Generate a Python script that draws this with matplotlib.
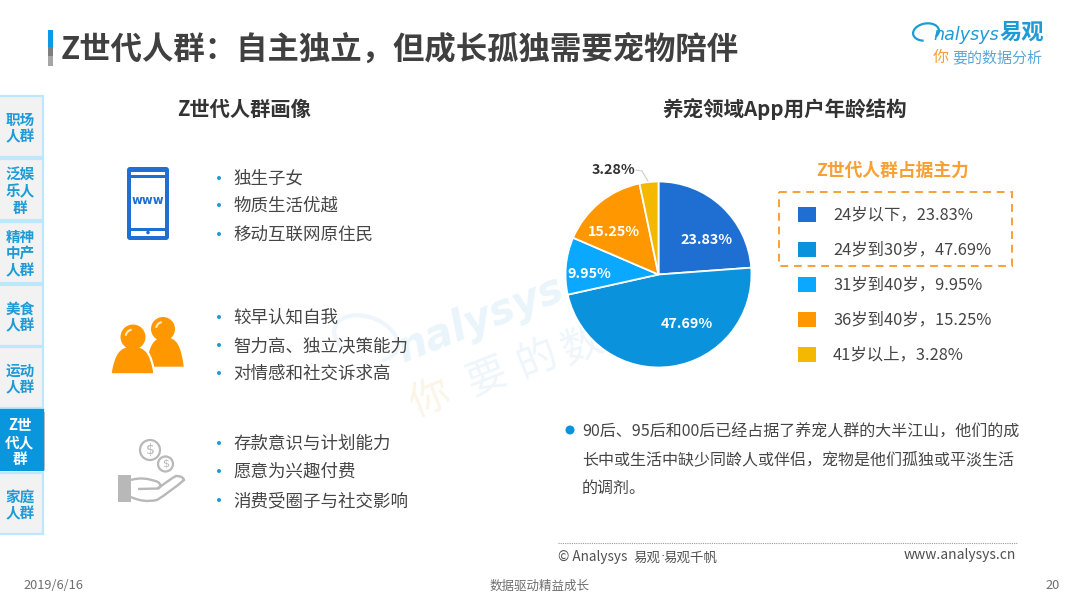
import matplotlib
matplotlib.use("Agg")
import matplotlib.pyplot as plt
from matplotlib.patches import Rectangle, FancyBboxPatch, Circle, PathPatch, Arc
from matplotlib.path import Path

plt.rcParams['font.family'] = ['Noto Sans CJK SC', 'DejaVu Sans']

# ---------- data ----------
age_groups = ['24岁以下', '24岁到30岁', '31岁到40岁', '36岁到40岁', '41岁以上']
age_shares = [23.83, 47.69, 9.95, 15.25, 3.28]
age_colors = ['#1F6FD2', '#0A93DC', '#0AA8FF', '#FF9800', '#F5B800']
sidebar_tabs = ['职场\n人群', '泛娱\n乐人\n群', '精神\n中产\n人群', '美食\n人群', '运动\n人群', 'Z世\n代人\n群', '家庭\n人群']
active_tab = 5
portrait_lines = ['独生子女', '物质生活优越', '移动互联网原住民',
                  '较早认知自我', '智力高、独立决策能力', '对情感和社交诉求高',
                  '存款意识与计划能力', '愿意为兴趣付费', '消费受圈子与社交影响']
summary_lines = ['90后、95后和00后已经占据了养宠人群的大半江山，他们的成',
                 '长中或生活中缺少同龄人或伴侣，宠物是他们孤独或平淡生活',
                 '的调剂。']

W, H = 1080, 608
fig = plt.figure(figsize=(W / 100, H / 100), dpi=100, facecolor='white')
bg = fig.add_axes([0, 0, 1, 1], zorder=1)
bg.set_xlim(0, W); bg.set_ylim(H, 0); bg.axis('off')
fg = fig.add_axes([0, 0, 1, 1], zorder=3)
fg.set_xlim(0, W); fg.set_ylim(H, 0); fg.axis('off'); fg.patch.set_alpha(0)

DARK = '#454545'

def t(x, y, s, size=12, color=DARK, weight='normal', ha='left', va='center', ax=fg, **kw):
    return ax.text(x, y + 1.5, s, fontsize=size, color=color, fontweight=weight, ha=ha, va=va, **kw)

# ---------- watermark ----------
t(399, 350, 'nalysys', size=30, color='#EAF5FB', weight='bold', ha='left', rotation=21.5,
  rotation_mode='anchor', ax=bg, family='DejaVu Sans', style='italic')
bg.add_patch(Arc((366, 338), 66, 42, angle=20, theta1=140, theta2=395, color='#EEF6FB', lw=3))
for x, y, ch, c in [(430, 398, '你', '#FBF5E8'), (487, 375, '要', '#EEF6FB'),
                    (537, 358, '的', '#EEF6FB'), (582, 344, '数', '#EEF6FB')]:
    t(x, y, ch, size=29, color=c, ha='center', rotation=21.5, rotation_mode='anchor', ax=bg)

# ---------- title ----------
fg.add_patch(Rectangle((48, 29.5), 4.5, 17, fc='#0A9BE8', ec='none'))
fg.add_patch(Rectangle((48, 46.5), 4.5, 9, fc='#7F7F7F', ec='none'))
fg.add_patch(Rectangle((48, 55.5), 4.5, 10.5, fc='#A6A6A6', ec='none'))
t(61, 48, 'Z世代人群：自主独立，但成长孤独需要宠物陪伴', size=22.6, color='#404040', weight='bold')

# ---------- logo ----------
fg.add_patch(Arc((926, 32), 26, 17, angle=-10, theta1=115, theta2=395, color='#1E9BD7', lw=1.6))
t(933, 34, 'nalysys', size=12.6, color='#1E9BD7', style='italic', family='DejaVu Sans')
t(1000, 31, '易观', size=16, color='#1E9BD7', weight='bold')
t(933, 56, '你', size=11.5, color='#F7A035')
t(952, 56.5, '要的数据分析', size=10.8, color='#5BA7D9')

# ---------- sidebar ----------
tab_tops = [96, 159, 222, 285, 347, 410, 473]
for i, (lab, top) in enumerate(zip(sidebar_tabs, tab_tops)):
    active = i == active_tab
    if active:
        fg.add_patch(Rectangle((2, top + 2), 43, 58, fc='#9A9A9A', ec='none', alpha=.6))
    fg.add_patch(Rectangle((-2, top), 45, 60 if active else 61,
                           fc='#0A96DC' if active else '#F2F2F2',
                           ec='#0A96DC' if active else '#BDE7FA', lw=1.6))
    t(20, top + 30.5, lab, size=10.5, weight='bold', color='white' if active else '#1E9BD7',
      ha='center', linespacing=1.05)

# ---------- headings ----------
t(244, 107.5, 'Z世代人群画像', size=14.6, color='#333333', weight='bold', ha='center')
t(785, 107.5, '养宠领域App用户年龄结构', size=14.8, color='#333333', weight='bold', ha='center')

# ---------- bullets ----------
line_y = [178, 205, 234, 317, 345, 373, 443, 471, 500]
for y, s in zip(line_y, portrait_lines):
    fg.add_patch(Circle((219, y), 2, fc='#1E9BD7', ec='none'))
    t(233, y - 0.5, s, size=12.6)

# ---------- icon: phone ----------
BLUE = '#1F6FD2'
fg.add_patch(FancyBboxPatch((128, 168), 40, 71, boxstyle='round,pad=1,rounding_size=3', fc=BLUE, ec='none'))
fg.add_patch(Rectangle((131, 172), 34, 3, fc='white', ec='none'))
fg.add_patch(Rectangle((131, 178), 34, 50, fc='white', ec='none'))
fg.add_patch(Rectangle((131, 230.5), 34, 5.5, fc='white', ec='none'))
fg.add_patch(Circle((148, 232.5), 1.8, fc=BLUE, ec='none'))
t(148, 199.5, 'www', size=8.5, color=BLUE, weight='bold', ha='center', family='DejaVu Sans')

# ---------- icon: people ----------
ORANGE = '#FF9800'
def body(x0, x1, top, bottom):
    xm = (x0 + x1) / 2
    w = x1 - x0
    h = bottom - top
    return Path([(x0, bottom), (x0 + .08 * w, top + .3 * h), (xm - .32 * w, top), (xm, top),
                 (xm + .32 * w, top), (x1 - .08 * w, top + .3 * h), (x1, bottom), (x0, bottom)],
                [Path.MOVETO, Path.CURVE4, Path.CURVE4, Path.CURVE4, Path.CURVE4, Path.CURVE4, Path.CURVE4, Path.CLOSEPOLY])
fg.add_patch(PathPatch(body(147, 183, 338, 366), fc=ORANGE, ec=ORANGE, lw=1, joinstyle='round'))
fg.add_patch(Circle((163, 329), 12, fc=ORANGE, ec='none'))
fg.add_patch(PathPatch(body(111, 154, 346, 373), fc=ORANGE, ec='white', lw=2.2, joinstyle='round'))
fg.add_patch(PathPatch(body(112.5, 152.5, 347.5, 372.5), fc=ORANGE, ec=ORANGE, lw=1, joinstyle='round'))
fg.add_patch(Circle((133, 337), 12.5, fc=ORANGE, ec='none'))
fg.add_patch(Arc((133, 337), 15, 15, theta1=190, theta2=260, color='#FFE9C8', lw=1.5))
fg.add_patch(Arc((163, 329), 14, 14, theta1=190, theta2=260, color='#FFE9C8', lw=1.5))

# ---------- icon: hand and coins ----------
GREY = '#B8B8B8'
fg.add_patch(Circle((150, 450), 10, fc='white', ec=GREY, lw=1.6))
fg.add_patch(Circle((165.5, 464), 7.5, fc='white', ec=GREY, lw=1.6))
t(150, 448.5, '$', size=10, color=GREY, ha='center', family='DejaVu Sans')
t(165.5, 462.5, '$', size=8, color=GREY, ha='center', family='DejaVu Sans')
fg.add_patch(Rectangle((118, 475), 13, 27, fc=GREY, ec='none'))
hand = Path([(131, 480), (143, 476), (158, 482), (163, 486), (158, 488.5), (138, 489),
             (131, 497), (143, 503), (157, 500), (170, 492), (184, 480), (183, 476), (176, 476), (170, 479), (158, 488.5)],
            [Path.MOVETO, Path.CURVE3, Path.CURVE3, Path.CURVE3, Path.CURVE3, Path.LINETO,
             Path.MOVETO, Path.CURVE3, Path.CURVE3, Path.CURVE3, Path.CURVE3, Path.CURVE3, Path.CURVE3, Path.CURVE3, Path.CURVE3])
fg.add_patch(PathPatch(hand, fc='none', ec=GREY, lw=1.7))

# ---------- pie ----------
cx, cy, r = 658.5, 274.5, 93
pie_ax = fig.add_axes([(cx - r) / W, 1 - (cy + r) / H, 2 * r / W, 2 * r / H], zorder=2)
pie_ax.pie(age_shares, colors=age_colors, startangle=90, counterclock=False, radius=1,
           wedgeprops=dict(edgecolor='white', linewidth=1.3))
pie_ax.set_xlim(-1, 1); pie_ax.set_ylim(-1, 1)

pie_label_xy = [(707, 238), (687, 322), (589, 272), (614, 230)]
for (x, y), v in zip(pie_label_xy, age_shares[:4]):
    t(x, y, f'{v:.2f}%', size=10.3, color='white', weight='bold', ha='center')
t(614, 168, f'{age_shares[4]:.2f}%', size=10.3, color='#333333', weight='bold', ha='center')
fg.plot([636, 642, 648], [170, 171, 181], color='#CFCFCF', lw=.8)

# ---------- legend ----------
t(893, 169.5, 'Z世代人群占据主力', size=12.8, color='#F7A035', weight='bold', ha='center')
fg.add_patch(Rectangle((779, 191.5), 233, 74, fc='none', ec='#F7A035', lw=1.4, ls=(0, (4, 3))))
legend_y = [214, 249, 284, 319, 354]
for y, g, v, c in zip(legend_y, age_groups, age_shares, age_colors):
    fg.add_patch(Rectangle((798, y - 7), 18, 14.5, fc=c, ec='none'))
    t(833, y - 1, f'{g}，{v:.2f}%', size=11.8)

# ---------- summary ----------
fg.add_patch(Circle((570, 430), 4.5, fc='#0A93DC', ec='none'))
for y, s in zip([430, 458, 487], summary_lines):
    t(582, y, s, size=11.5)

# ---------- footer ----------
fg.plot([558, 1017], [543, 543], color='#9A9A9A', lw=.8, ls=(0, (1, 1)))
t(558, 556, '© Analysys', size=9.8, color='#505050')
t(633, 556, '易观', size=9.7, color='#505050')
t(660, 555.5, '·', size=9.7, color='#505050', family='DejaVu Sans')
t(663, 556, '易观千帆', size=9.7, color='#505050')
t(1016, 554, 'www.analysys.cn', size=10, color='#505050', ha='right')
t(23, 584, '2019/6/16', size=9.2, color='#6E6E6E')
t(540, 584.5, '数据驱动精益成长', size=9, color='#6E6E6E', ha='center')
t(1060, 584, '20', size=9.2, color='#6E6E6E', ha='right')

fig.savefig('out.png', dpi=100, facecolor='white')
